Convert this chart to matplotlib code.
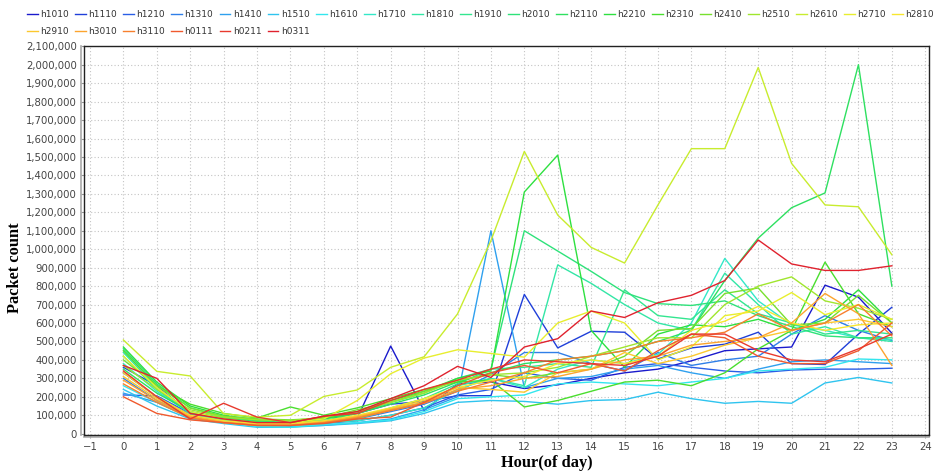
import matplotlib
matplotlib.use('Agg')
import matplotlib.pyplot as plt
from matplotlib.lines import Line2D
from matplotlib.ticker import FuncFormatter, MultipleLocator

# hours of the day
hours = list(range(24))

# series names (legend order)
names = ['h1010', 'h1110', 'h1210', 'h1310', 'h1410', 'h1510', 'h1610', 'h1710',
         'h1810', 'h1910', 'h2010', 'h2110', 'h2210', 'h2310', 'h2410', 'h2510',
         'h2610', 'h2710', 'h2810', 'h2910', 'h3010', 'h3110', 'h0111', 'h0211', 'h0311']

# packet counts in thousands
h1010 = [330, 200, 100, 70, 50, 55, 90, 85, 475, 125, 270, 280, 245, 265, 300, 330, 350, 395, 450, 460, 470, 805, 740, 545]
h1110 = [360, 260, 110, 70, 50, 55, 85, 110, 160, 175, 206, 206, 755, 465, 555, 550, 405, 465, 485, 550, 380, 375, 540, 685]
h1210 = [210, 205, 110, 80, 60, 50, 55, 70, 100, 140, 210, 240, 330, 300, 290, 360, 380, 360, 340, 330, 345, 350, 350, 355]
h1310 = [300, 180, 100, 70, 55, 50, 60, 80, 120, 160, 230, 320, 440, 440, 380, 340, 440, 370, 400, 420, 540, 640, 560, 505]
h1410 = [220, 170, 90, 65, 45, 40, 45, 60, 80, 130, 200, 1100, 250, 300, 310, 350, 370, 330, 300, 350, 390, 400, 390, 380]
h1510 = [240, 150, 80, 55, 35, 35, 45, 55, 70, 110, 170, 180, 175, 160, 180, 185, 225, 190, 165, 175, 165, 275, 305, 275]
h1610 = [260, 170, 85, 60, 40, 35, 50, 60, 75, 120, 190, 200, 210, 270, 280, 270, 260, 280, 300, 340, 350, 360, 405, 400]
h1710 = [380, 230, 110, 70, 50, 45, 60, 70, 100, 140, 240, 300, 250, 350, 400, 380, 430, 600, 950, 720, 590, 560, 520, 510]
h1810 = [440, 250, 120, 75, 55, 50, 60, 80, 130, 170, 260, 300, 260, 915, 815, 700, 600, 560, 870, 700, 540, 580, 520, 500]
h1910 = [420, 240, 110, 80, 60, 55, 70, 90, 140, 190, 270, 350, 360, 380, 360, 780, 640, 620, 780, 650, 600, 540, 560, 540]
h2010 = [460, 270, 140, 90, 70, 60, 70, 110, 170, 220, 300, 350, 1100, 990, 880, 765, 705, 695, 720, 640, 580, 530, 520, 520]
h2110 = [350, 220, 120, 85, 65, 60, 80, 110, 160, 210, 280, 330, 380, 400, 420, 450, 500, 560, 830, 1060, 1225, 1305, 2000, 800]
h2210 = [470, 280, 150, 100, 75, 70, 80, 120, 180, 230, 300, 340, 1310, 1510, 560, 360, 540, 590, 580, 620, 560, 620, 780, 600]
h2310 = [450, 260, 160, 110, 85, 145, 100, 140, 190, 240, 280, 290, 145, 180, 230, 280, 290, 260, 330, 460, 560, 930, 650, 580]
h2410 = [400, 260, 140, 95, 80, 75, 85, 130, 170, 230, 290, 320, 300, 330, 350, 420, 560, 570, 760, 790, 590, 600, 750, 600]
h2510 = [370, 240, 130, 90, 75, 70, 90, 120, 170, 220, 290, 320, 330, 360, 420, 470, 520, 520, 700, 800, 850, 720, 680, 620]
h2610 = [508, 338, 313, 108, 90, 100, 202, 237, 360, 417, 649, 1046, 1530, 1185, 1010, 925, 1240, 1545, 1545, 1985, 1465, 1240, 1230, 970]
h2710 = [420, 250, 120, 80, 60, 60, 80, 180, 325, 410, 455, 435, 415, 600, 665, 600, 400, 470, 640, 665, 765, 645, 700, 620]
h2810 = [330, 200, 100, 70, 55, 55, 70, 100, 140, 190, 250, 290, 310, 380, 400, 380, 420, 560, 610, 690, 600, 560, 590, 600]
h2910 = [310, 190, 95, 65, 50, 50, 65, 95, 135, 180, 250, 240, 225, 330, 350, 440, 380, 420, 480, 520, 560, 600, 620, 580]
h3010 = [290, 180, 90, 60, 45, 45, 60, 90, 130, 170, 240, 260, 300, 310, 350, 400, 420, 480, 500, 520, 600, 760, 650, 370]
h3110 = [270, 170, 85, 60, 45, 45, 60, 85, 125, 165, 230, 280, 330, 400, 420, 450, 500, 520, 550, 650, 560, 600, 700, 530]
h0111 = [200, 110, 75, 60, 45, 45, 55, 80, 90, 170, 260, 330, 370, 330, 380, 340, 450, 540, 520, 420, 380, 380, 450, 600]
h0211 = [340, 200, 80, 165, 90, 60, 95, 110, 180, 240, 290, 350, 400, 390, 380, 370, 420, 540, 540, 450, 400, 390, 460, 540]
h0311 = [370, 300, 110, 80, 60, 60, 95, 120, 190, 260, 365, 305, 470, 515, 665, 630, 710, 750, 830, 1050, 920, 885, 885, 910]

series = [h1010, h1110, h1210, h1310, h1410, h1510, h1610, h1710, h1810, h1910,
          h2010, h2110, h2210, h2310, h2410, h2510, h2610, h2710, h2810, h2910,
          h3010, h3110, h0111, h0211, h0311]

colors = ['#1a1acc', '#1f3fd9', '#2a5ee6', '#2f7fe8', '#2fa0ee', '#2fc4ef', '#33e6ee',
          '#33e8c8', '#33e6a6', '#33e690', '#2ee27a', '#2ee060', '#2ee040', '#4ade2e',
          '#78e02e', '#a0e62e', '#c8ec2e', '#e8ee2e', '#f8e62e', '#fcc82e', '#fca42e',
          '#f8802e', '#f05a2e', '#e83a2e', '#e0222e']

fig = plt.figure(figsize=(9.33, 4.72), dpi=100)
ax = fig.add_axes([0.090, 0.078, 0.906, 0.824])

handles = []
for name, vals, c in zip(names, series, colors):
    ln, = ax.plot(hours, [v * 1000 for v in vals], color=c, lw=1.0, label=name)
    handles.append(ln)

ax.set_xlim(-1.18, 24.12)
ax.set_ylim(-8000, 2100000)
ax.xaxis.set_major_locator(MultipleLocator(1))
ax.yaxis.set_major_locator(MultipleLocator(100000))
ax.yaxis.set_major_formatter(FuncFormatter(lambda v, p: f'{int(v):,}'))
ax.grid(True, color='#c4c4c4', lw=0.8, linestyle=(0, (1, 2)))
ax.set_axisbelow(True)
ax.tick_params(labelsize=7.3, labelcolor='#444444', color='#999999',
               length=2, direction='out', pad=3)
for s in ax.spines.values():
    s.set_color('#222222')
    s.set_linewidth(1.0)

# grey axis lines just outside the plot frame
ax.add_line(Line2D([-0.003, -0.003], [0, 1], transform=ax.transAxes,
                   color='#aaaaaa', lw=1.2, clip_on=False))
ax.add_line(Line2D([0, 1], [-0.005, -0.005], transform=ax.transAxes,
                   color='#aaaaaa', lw=1.2, clip_on=False))

ax.set_xlabel('Hour(of day)', family='Liberation Serif', weight='bold', fontsize=11.8)
ax.set_ylabel('Packet count', family='Liberation Serif', weight='bold', fontsize=11.8)
ax.xaxis.set_label_coords(0.547, -0.052)
ax.yaxis.set_label_coords(-0.072, 0.43)

leg_kw = dict(loc='upper left', frameon=False, fontsize=6.5, handlelength=1.2,
              handletextpad=0.25, columnspacing=0.7, borderaxespad=0, borderpad=0)
leg1 = fig.legend(handles[:19], names[:19], ncol=19, bbox_to_anchor=(0.029, 0.978), **leg_kw)
leg2 = fig.legend(handles[19:], names[19:], ncol=6, bbox_to_anchor=(0.029, 0.943), **leg_kw)
for leg in (leg1, leg2):
    for t in leg.get_texts():
        t.set_color('#333333')

fig.savefig('out.png', dpi=100)
